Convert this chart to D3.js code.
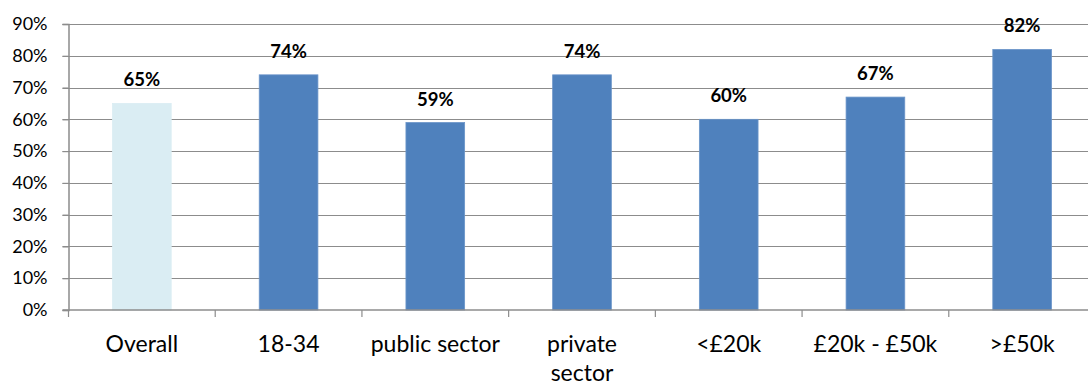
<!DOCTYPE html>
<html>
<head>
<meta charset="utf-8">
<script src="https://cdn.jsdelivr.net/npm/d3@7"></script>
<style>
  html, body { margin: 0; padding: 0; background: #fff; }
  svg { display: block; }
  text { font-family: Lato, "Open Sans", sans-serif; fill: #000; }
</style>
</head>
<body>
<svg id="chart" width="1088" height="386"></svg>
<script>
// Share of respondents by group
const categories = ["Overall", "18-34", "public sector", "private sector", "<£20k", "£20k - £50k", ">£50k"];
const values = [65, 74, 59, 74, 60, 67, 82];
const yTicks = [0, 10, 20, 30, 40, 50, 60, 70, 80, 90];

const svg = d3.select("#chart");
const plotLeft = 68.5, plotRight = 1095.5, plotTop = 24, plotBottom = 310;

const x = d3.scaleBand()
  .domain(categories)
  .range([plotLeft, plotRight])
  .paddingInner(0.6)
  .paddingOuter(0.3);

const y = d3.scaleLinear().domain([0, 90]).range([plotBottom, plotTop]);

// horizontal gridlines
svg.append("g")
  .selectAll("line")
  .data(yTicks.filter(d => d > 0))
  .join("line")
  .attr("x1", plotLeft - 6).attr("x2", 1088)
  .attr("y1", d => Math.round(y(d)) + 0.5).attr("y2", d => Math.round(y(d)) + 0.5)
  .attr("stroke", "#8c8c8c").attr("stroke-width", 1.2);

// y axis
const yAxis = svg.append("g")
  .attr("transform", `translate(${plotLeft},0)`)
  .call(d3.axisLeft(y).tickValues(yTicks).tickFormat(d => d + "%").tickSize(6).tickPadding(15));
yAxis.select(".domain").attr("stroke", "#8c8c8c").attr("stroke-width", 1.5);
yAxis.selectAll(".tick line").attr("stroke", "#8c8c8c").attr("stroke-width", 1.2);
yAxis.selectAll(".tick text")
  .attr("font-size", 18).attr("font-family", "Lato, sans-serif").attr("fill", "#000");

// bars
svg.append("g")
  .selectAll("rect")
  .data(categories)
  .join("rect")
  .attr("x", d => x(d))
  .attr("width", x.bandwidth())
  .attr("y", (d, i) => y(values[i]))
  .attr("height", (d, i) => plotBottom - y(values[i]))
  .attr("fill", (d, i) => i === 0 ? "#daedf3" : "#4f81bd")
  .attr("stroke", (d, i) => i === 0 ? "#daedf3" : "#6b95c9")
  .attr("stroke-width", 0.8);

// value labels
svg.append("g")
  .selectAll("text")
  .data(categories)
  .join("text")
  .attr("x", d => x(d) + x.bandwidth() / 2)
  .attr("y", (d, i) => y(values[i]) - 17)
  .attr("text-anchor", "middle")
  .attr("font-size", 18.5)
  .attr("font-weight", "bold")
  .text((d, i) => values[i] + "%");

// x axis
const step = x.step();
const boundaries = d3.range(categories.length + 1).map(i => plotLeft + i * step);
svg.append("line")
  .attr("x1", plotLeft - 6).attr("x2", 1088)
  .attr("y1", plotBottom).attr("y2", plotBottom)
  .attr("stroke", "#8c8c8c").attr("stroke-width", 1.5);
svg.append("g")
  .selectAll("line")
  .data(boundaries)
  .join("line")
  .attr("x1", d => d).attr("x2", d => d)
  .attr("y1", plotBottom).attr("y2", plotBottom + 7)
  .attr("stroke", "#8c8c8c").attr("stroke-width", 1.2);

// category labels (wrap two-word sector label)
const catLines = { "private sector": ["private", "sector"] };
const labels = svg.append("g")
  .selectAll("text")
  .data(categories)
  .join("text")
  .attr("x", d => x(d) + x.bandwidth() / 2)
  .attr("y", 352)
  .attr("text-anchor", "middle")
  .attr("font-size", 23);
labels.each(function(d) {
  const lines = catLines[d] || [d];
  const t = d3.select(this);
  lines.forEach((ln, i) => {
    t.append("tspan")
      .attr("x", x(d) + x.bandwidth() / 2)
      .attr("dy", i === 0 ? 0 : 29)
      .text(ln);
  });
});
</script>
</body>
</html>
